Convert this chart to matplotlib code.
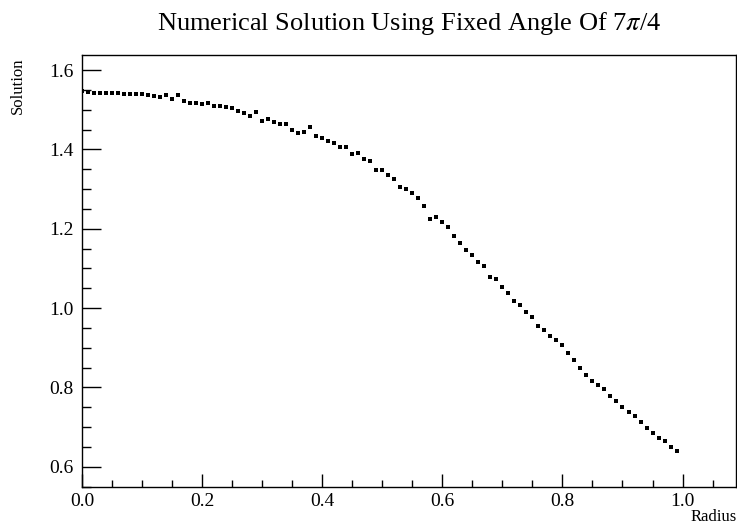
import numpy as np
import matplotlib.pyplot as plt
from matplotlib.ticker import MultipleLocator, FormatStrFormatter

plt.rcParams['font.family'] = 'Liberation Serif'
plt.rcParams['mathtext.fontset'] = 'stix'

radius = np.arange(100) * 0.01
solution = [
    1.547, 1.545, 1.541, 1.541, 1.543, 1.541, 1.543, 1.540, 1.540, 1.540,
    1.540, 1.537, 1.535, 1.531, 1.536, 1.527, 1.537, 1.522, 1.516, 1.517,
    1.514, 1.517, 1.510, 1.510, 1.508, 1.505, 1.498, 1.493, 1.484, 1.495,
    1.472, 1.477, 1.470, 1.464, 1.464, 1.448, 1.442, 1.444, 1.456, 1.434,
    1.430, 1.422, 1.417, 1.405, 1.407, 1.389, 1.391, 1.375, 1.372, 1.349,
    1.347, 1.335, 1.326, 1.305, 1.300, 1.290, 1.278, 1.257, 1.225, 1.230,
    1.216, 1.205, 1.182, 1.163, 1.147, 1.134, 1.116, 1.107, 1.078, 1.074,
    1.052, 1.038, 1.018, 1.009, 0.990, 0.978, 0.954, 0.946, 0.930, 0.920,
    0.907, 0.886, 0.868, 0.849, 0.832, 0.817, 0.807, 0.796, 0.778, 0.765,
    0.751, 0.738, 0.729, 0.713, 0.697, 0.686, 0.672, 0.664, 0.651, 0.639,
]

fig = plt.figure(figsize=(7.37, 5.26), dpi=100)
ax = fig.add_axes([82/737, 1 - 487/526, 654/737, 432/526])

ax.plot(radius, solution, linestyle='none', marker='s', markersize=2.4,
        color='black', markeredgewidth=0)

ax.set_xlim(0, 1.089)
ax.set_ylim(0.549, 1.638)

ax.xaxis.set_major_locator(MultipleLocator(0.2))
ax.xaxis.set_minor_locator(MultipleLocator(0.05))
ax.yaxis.set_major_locator(MultipleLocator(0.2))
ax.yaxis.set_minor_locator(MultipleLocator(0.05))
ax.xaxis.set_major_formatter(FormatStrFormatter('%.1f'))
ax.yaxis.set_major_formatter(FormatStrFormatter('%.1f'))

ax.tick_params(axis='x', which='major', direction='in', length=9.4, width=1, labelsize=14, pad=4)
ax.tick_params(axis='x', which='minor', direction='in', length=4.7, width=1)
ax.tick_params(axis='y', which='major', direction='in', length=13.7, width=1, labelsize=14, pad=6)
ax.tick_params(axis='y', which='minor', direction='in', length=6.8, width=1)
for s in ax.spines.values():
    s.set_linewidth(1)

fig.text(1.0, 1 - 521/526, 'Radius', ha='right', va='baseline', fontsize=12)
fig.text(18/737, 1 - 58/526, 'Solution', ha='center', va='top', rotation=90, fontsize=12)
fig.text(409/737, 1 - 30/526, r'Numerical Solution Using Fixed Angle Of 7$\mathit{\pi}$/4',
         ha='center', va='baseline', fontsize=19)

fig.savefig('out.png', dpi=100)
